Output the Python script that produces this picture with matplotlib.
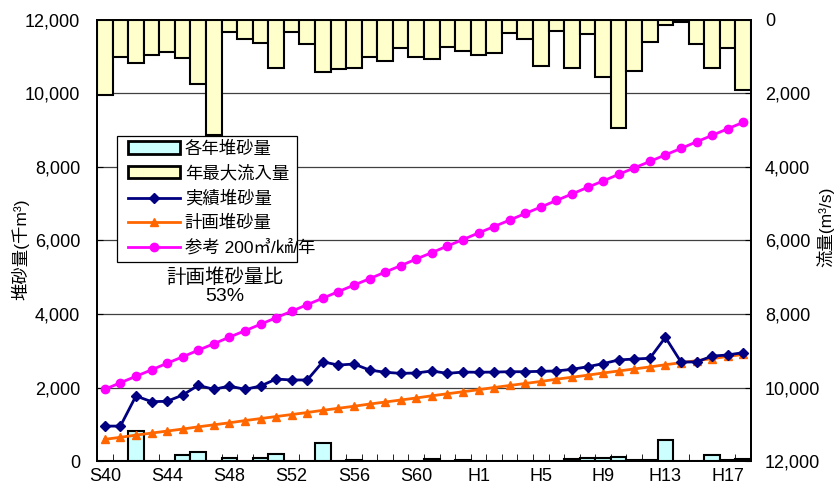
import numpy as np
import matplotlib.pyplot as plt
from matplotlib.patches import Patch, Rectangle
from matplotlib.lines import Line2D

plt.rcParams['font.family'] = ['Liberation Sans', 'Noto Sans CJK JP', 'DejaVu Sans']

# years S40 (1965) .. H18 (2006)
years = ['S40', 'S41', 'S42', 'S43', 'S44', 'S45', 'S46', 'S47', 'S48', 'S49',
         'S50', 'S51', 'S52', 'S53', 'S54', 'S55', 'S56', 'S57', 'S58', 'S59',
         'S60', 'S61', 'S62', 'S63', 'H1', 'H2', 'H3', 'H4', 'H5', 'H6',
         'H7', 'H8', 'H9', 'H10', 'H11', 'H12', 'H13', 'H14', 'H15', 'H16',
         'H17', 'H18']

# annual sediment deposit (thousand m3)
deposit = [0, 0, 820, 0, 10, 160, 250, 0, 90, 0,
           90, 190, 0, 0, 490, 0, 30, 0, 0, 0,
           10, 50, 0, 35, 0, 10, 10, 0, 10, 10,
           45, 70, 80, 100, 30, 20, 570, 0, 0, 160,
           30, 60]

# annual maximum inflow (m3/s)
inflow = [2040, 1010, 1180, 950, 880, 1040, 1750, 3130, 340, 520,
          620, 1320, 320, 650, 1410, 1340, 1300, 1020, 1120, 750,
          1020, 1070, 740, 840, 950, 910, 350, 520, 1250, 290,
          1310, 380, 1540, 2950, 1390, 590, 140, 60, 640, 1320,
          770, 1900]

# accumulated sediment, actual (thousand m3)
actual = [950, 950, 1770, 1615, 1625, 1795, 2060, 1950, 2040, 1950,
          2040, 2230, 2205, 2205, 2700, 2610, 2640, 2475, 2415, 2385,
          2395, 2450, 2385, 2420, 2415, 2420, 2430, 2430, 2440, 2450,
          2495, 2565, 2650, 2750, 2775, 2795, 3365, 2695, 2695, 2855,
          2885, 2950]

# accumulated sediment, plan (thousand m3)
plan = [590, 645, 705, 760, 815, 870, 930, 985, 1040, 1100,
        1155, 1210, 1265, 1320, 1380, 1435, 1490, 1550, 1605, 1660,
        1715, 1775, 1830, 1885, 1940, 2000, 2055, 2110, 2165, 2225,
        2280, 2335, 2395, 2450, 2505, 2560, 2620, 2675, 2730, 2785,
        2845, 2900]

# reference line, 200 m3/km2/year (thousand m3)
reference = [1950, 2130, 2305, 2480, 2660, 2835, 3015, 3190, 3370, 3545,
             3720, 3900, 4075, 4255, 4430, 4610, 4785, 4960, 5140, 5315,
             5495, 5670, 5850, 6025, 6205, 6380, 6555, 6735, 6910, 7090,
             7265, 7445, 7620, 7800, 7975, 8150, 8330, 8505, 8685, 8860,
             9040, 9215]

left_ticks = [0, 2000, 4000, 6000, 8000, 10000, 12000]
right_ticks = [0, 2000, 4000, 6000, 8000, 10000, 12000]

x = np.arange(len(years))

fig = plt.figure(figsize=(8.4, 4.97), dpi=100)
ax = fig.add_axes([0.1155, 0.0724, 0.7786, 0.8874])
ax2 = ax.twinx()

# sediment bars and lines on the left axis
ax.bar(x, deposit, width=1.0, color='#CCFFFF', edgecolor='black', linewidth=1.5, zorder=2)
ax.plot(x, reference, color='#FF00FF', lw=2, marker='o', ms=6, zorder=3)
ax.plot(x, plan, color='#FF6600', lw=2, marker='^', ms=6, zorder=4)
ax.plot(x, actual, color='#000080', lw=2, marker='D', ms=5, zorder=5)

ax.set_xlim(-0.5, len(years) - 0.5)
ax.set_ylim(0, 12000)
ax.set_yticks(left_ticks)
ax.set_yticklabels([f'{v:,}' for v in left_ticks], fontsize=13)
ax.yaxis.grid(True, color='#404040', lw=0.9)
ax.set_axisbelow(True)
ax.set_ylabel('堆砂量(千m³)', fontsize=12.5)
ax.yaxis.set_label_coords(-0.104, 0.48)

ax.set_xticks(x[::4])
ax.set_xticklabels(years[::4], fontsize=13)
ax.set_xticks(np.arange(len(years) + 1) - 0.5, minor=True)
ax.tick_params(axis='x', which='major', length=0, pad=5)
ax.tick_params(axis='x', which='minor', direction='in', length=5, color='black')
ax.tick_params(axis='y', direction='in', length=4, pad=12)

# inflow bars hang from the top on the inverted right axis
ax2.bar(x, inflow, width=1.0, color='#FFFFCC', edgecolor='black', linewidth=1.5, zorder=2)
ax2.set_ylim(12000, 0)
ax2.set_yticks(right_ticks)
ax2.set_yticklabels([f'{v:,}' for v in right_ticks], fontsize=13)
ax2.tick_params(axis='y', direction='in', length=4, pad=10)
ax2.set_ylabel('流量(m³/s)', fontsize=12.5)
ax2.yaxis.set_label_coords(1.100, 0.53)

for a in (ax, ax2):
    for s in a.spines.values():
        s.set_color('black')
        s.set_linewidth(1.3)

handles = [Patch(facecolor='#CCFFFF', edgecolor='black', linewidth=2),
           Patch(facecolor='#FFFFCC', edgecolor='black', linewidth=2),
           Line2D([], [], color='#000080', lw=2, marker='D', ms=5),
           Line2D([], [], color='#FF6600', lw=2, marker='^', ms=6),
           Line2D([], [], color='#FF00FF', lw=2, marker='o', ms=6)]
labels = ['各年堆砂量', '年最大流入量', '実績堆砂量', '計画堆砂量', '参考 200㎥/㎢/年']

ax2.add_patch(Rectangle((0.031, 0.451), 0.275, 0.286, transform=ax2.transAxes,
                        facecolor='white', edgecolor='black', lw=0.9, zorder=8))
leg = ax2.legend(handles, labels, loc='upper left', bbox_to_anchor=(0.040, 0.737),
                 borderaxespad=0, borderpad=0.25, frameon=False, fontsize=12.5,
                 handlelength=3.0, handleheight=0.7, handletextpad=0.3,
                 labelspacing=0.48)
leg.set_zorder(9)

ax.text(0.196, 0.395, '計画堆砂量比\n53%', transform=ax.transAxes, ha='center',
        va='center', fontsize=14, linespacing=1.1)

plt.savefig('out.png', dpi=100)
